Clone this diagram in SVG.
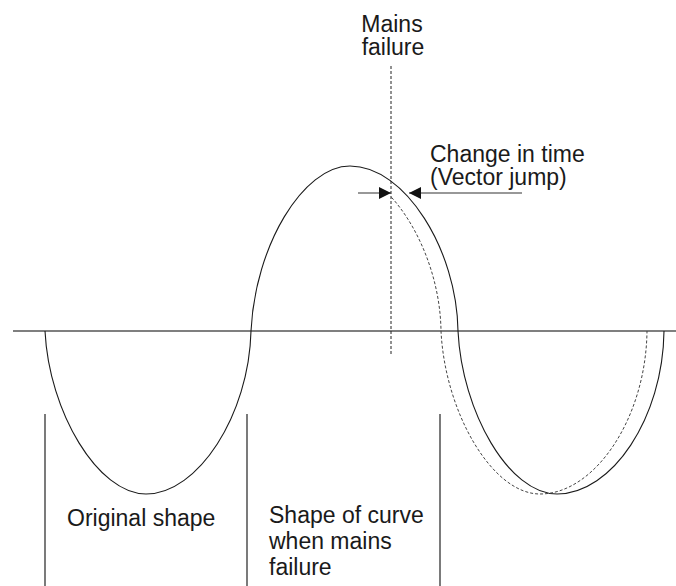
<svg xmlns="http://www.w3.org/2000/svg" width="676" height="586" viewBox="0 0 676 586">
<style>
.t{font-family:"Liberation Sans",Arial,sans-serif;font-size:23px;fill:#1a1a1a}
.curve{fill:none;stroke:#1a1a1a;stroke-width:1.1}
.dot{fill:none;stroke:#444;stroke-width:1;stroke-dasharray:3 2}
.bar{stroke:#222;stroke-width:1.2}
</style>
<defs>
<clipPath id="rightOfFail"><rect x="391" y="0" width="285" height="586"/></clipPath>
<marker id="ah" viewBox="0 0 12 12" refX="12" refY="6" markerWidth="12" markerHeight="12" markerUnits="userSpaceOnUse" orient="auto"><path d="M0,0 L12,6 L0,12 Z" fill="#111"/></marker>
</defs>
<rect width="676" height="586" fill="#fff"/>
<g id="axis"><line x1="13" y1="331" x2="676" y2="331" stroke="#555" stroke-width="1.4"/></g>
<g id="original-curve">
<path class="curve" d="M45,331 C49,412 98,494 146,494 C198,494 249,415 251,331 C255,246 303,166 350,166 C405,166 457,250 458,331 C462,412 509,494 557,494 C612,494 663,418 664,331"/>
</g>
<g id="shifted-curve" clip-path="url(#rightOfFail)">
<path class="dot" transform="translate(-17,0)" d="M251,331 C255,246 303,166 350,166 C405,166 457,250 458,331 C462,412 509,494 557,494 C612,494 663,418 664,331"/>
</g>
<g id="mains-failure-line"><line x1="391" y1="66" x2="391" y2="356" stroke="#222" stroke-width="1" stroke-dasharray="3 2"/></g>
<g id="connectors">
<line x1="358" y1="193" x2="391" y2="193" stroke="#333" stroke-width="1.2" marker-end="url(#ah)"/>
<line x1="522" y1="193" x2="409" y2="193" stroke="#333" stroke-width="1.2" marker-end="url(#ah)"/>
</g>
<g id="brackets">
<line class="bar" x1="45" y1="414" x2="45" y2="586"/>
<line class="bar" x1="247" y1="414" x2="247" y2="586"/>
<line class="bar" x1="440" y1="414" x2="440" y2="586"/>
</g>
<g id="label-mains">
<text class="t" x="392" y="32" text-anchor="middle">Mains</text>
<text class="t" x="393" y="55" text-anchor="middle">failure</text>
</g>
<g id="label-change">
<text class="t" x="430" y="162">Change in time</text>
<text class="t" x="430" y="185">(Vector jump)</text>
</g>
<g id="label-original"><text class="t" x="67" y="526">Original shape</text></g>
<g id="label-shape">
<text class="t" x="269" y="523">Shape of curve</text>
<text class="t" x="269" y="549">when mains</text>
<text class="t" x="269" y="575">failure</text>
</g>
</svg>
